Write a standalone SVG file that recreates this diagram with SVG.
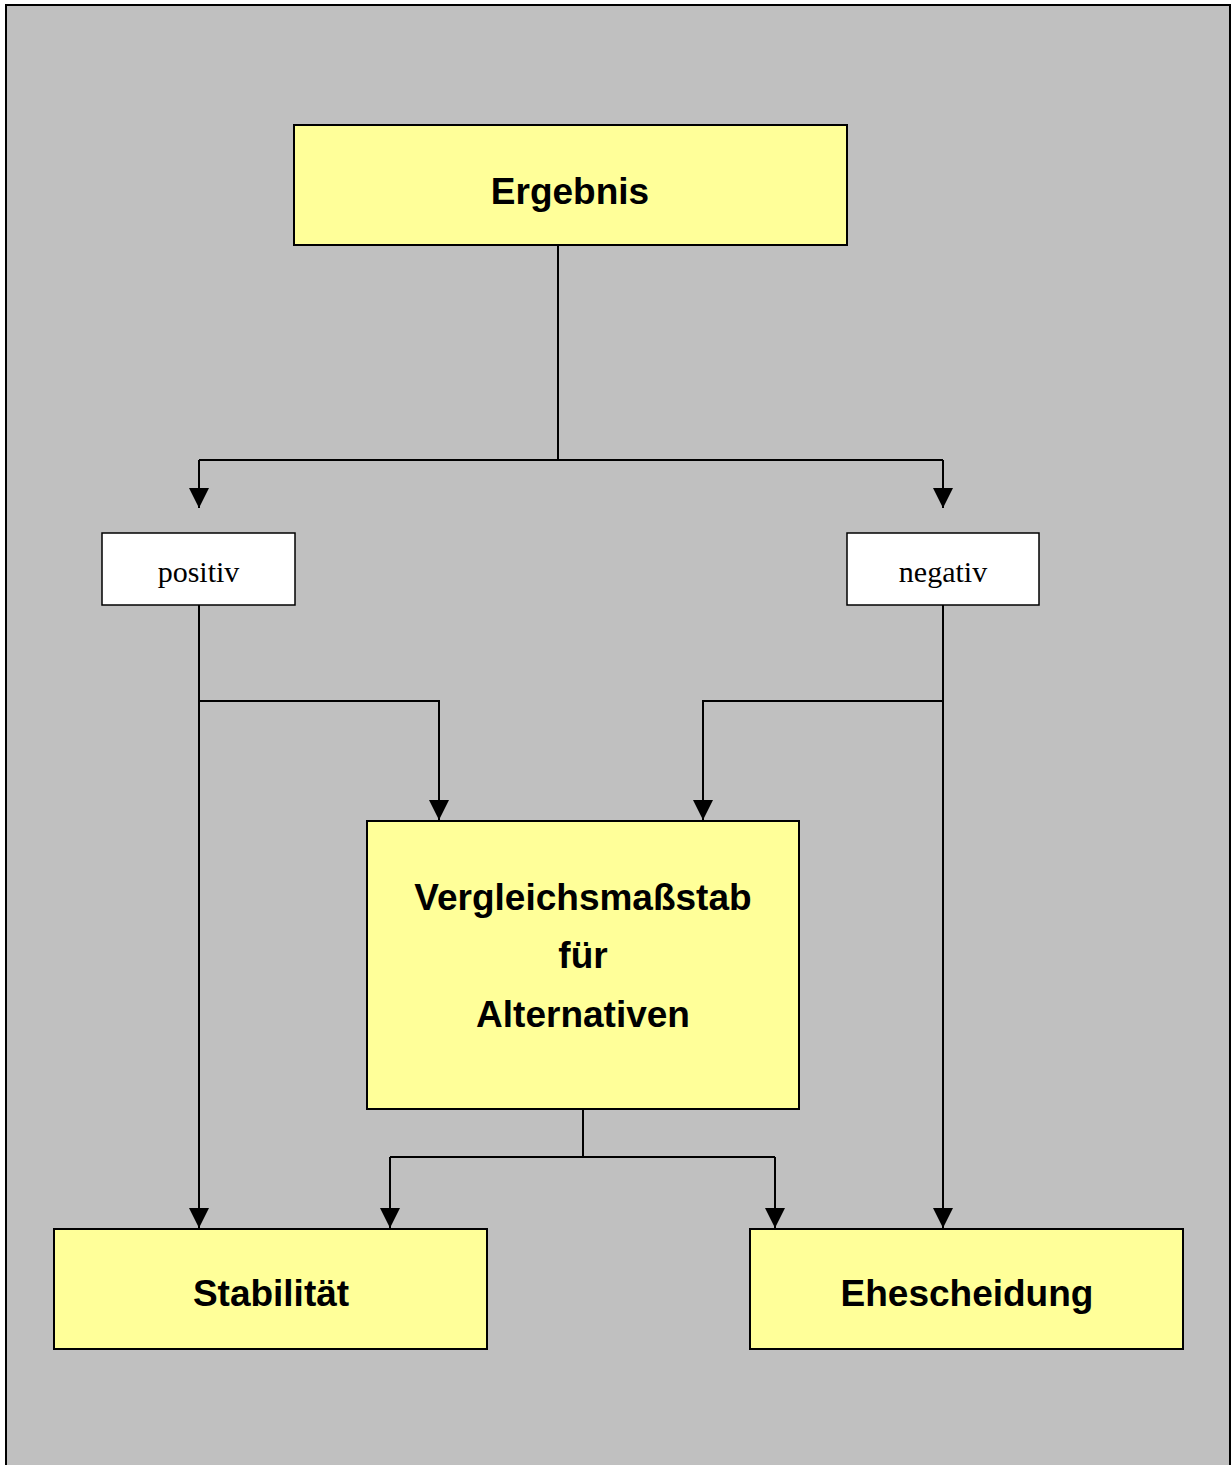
<svg xmlns="http://www.w3.org/2000/svg" width="1232" height="1465" viewBox="0 0 1232 1465">
<style>
.bg{fill:#C0C0C0;stroke:#000;stroke-width:2}
.y{fill:#FFFF99;stroke:#000;stroke-width:2}
.w{fill:#FFFFFF;stroke:#000;stroke-width:1.5}
.b{font-family:"Liberation Sans",Arial,sans-serif;font-weight:bold;font-size:37px;fill:#000;text-anchor:middle}
.s{font-family:"Liberation Serif","Times New Roman",serif;font-size:30px;fill:#000;text-anchor:middle}
.c{fill:none;stroke:#000;stroke-width:2}
</style>
<defs>
<marker id="ah" markerUnits="userSpaceOnUse" markerWidth="20" markerHeight="20" viewBox="0 0 20 20" refX="20" refY="10" orient="auto">
<path d="M0,0 L20,10 L0,20 Z" fill="#000"/>
</marker>
</defs>
<rect class="bg" x="6" y="5" width="1224" height="1480"/>
<g id="connectors">
<path class="c" d="M558,245 V460"/>
<path class="c" d="M199,460 H943"/>
<path class="c" d="M199,460 V508" marker-end="url(#ah)"/>
<path class="c" d="M943,460 V508" marker-end="url(#ah)"/>
<path class="c" d="M199,605 V1228" marker-end="url(#ah)"/>
<path class="c" d="M199,701 H439 V820" marker-end="url(#ah)"/>
<path class="c" d="M943,605 V1228" marker-end="url(#ah)"/>
<path class="c" d="M943,701 H703 V820" marker-end="url(#ah)"/>
<path class="c" d="M583,1109 V1157"/>
<path class="c" d="M390,1157 H775"/>
<path class="c" d="M390,1157 V1228" marker-end="url(#ah)"/>
<path class="c" d="M775,1157 V1228" marker-end="url(#ah)"/>
</g>
<g id="ergebnis">
<rect class="y" x="294" y="125" width="553" height="120"/>
<text class="b" x="570" y="204">Ergebnis</text>
</g>
<g id="positiv">
<rect class="w" x="102" y="533" width="193" height="72"/>
<text class="s" x="198.5" y="582">positiv</text>
</g>
<g id="negativ">
<rect class="w" x="847" y="533" width="192" height="72"/>
<text class="s" x="943" y="582">negativ</text>
</g>
<g id="vergleich">
<rect class="y" x="367" y="821" width="432" height="288"/>
<text class="b" x="583" y="910">Vergleichsmaßstab</text>
<text class="b" x="583" y="968">für</text>
<text class="b" x="583" y="1027">Alternativen</text>
</g>
<g id="stabilitaet">
<rect class="y" x="54" y="1229" width="433" height="120"/>
<text class="b" x="271" y="1306">Stabilität</text>
</g>
<g id="ehescheidung">
<rect class="y" x="750" y="1229" width="433" height="120"/>
<text class="b" x="967" y="1306">Ehescheidung</text>
</g>
</svg>
